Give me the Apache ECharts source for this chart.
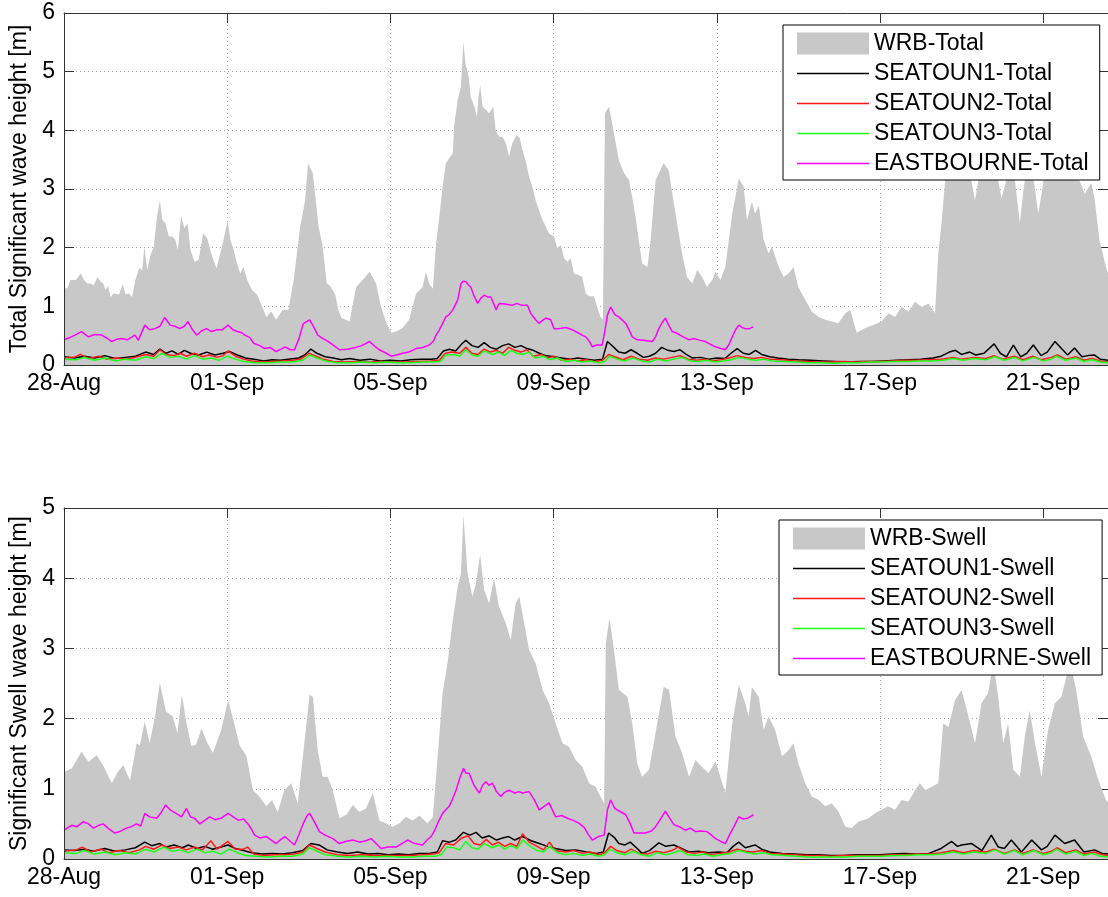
<!DOCTYPE html>
<html>
<head>
<meta charset="utf-8">
<script src="https://cdn.jsdelivr.net/npm/echarts@6/dist/echarts.min.js"></script>
<style>
html,body{margin:0;padding:0;background:#fff;}
#chart{width:1108px;height:897px;}
</style>
</head>
<body>
<div id="chart"></div>
<script>
// Time is given in days since 28-Aug 00:00; values are wave heights in metres.
const tickLabels = ['28-Aug', '01-Sep', '05-Sep', '09-Sep', '13-Sep', '17-Sep', '21-Sep'];

const totalNames = ['WRB-Total', 'SEATOUN1-Total', 'SEATOUN2-Total', 'SEATOUN3-Total', 'EASTBOURNE-Total'];
const swellNames = ['WRB-Swell', 'SEATOUN1-Swell', 'SEATOUN2-Swell', 'SEATOUN3-Swell', 'EASTBOURNE-Swell'];

const wrbTotal = [[0,1.31],[0.08,1.31],[0.16,1.45],[0.29,1.45],[0.41,1.56],[0.49,1.45],[0.57,1.39],[0.65,1.39],[0.73,1.36],[0.82,1.5],[0.9,1.42],[0.96,1.39],[1.02,1.28],[1.08,1.35],[1.14,1.16],[1.22,1.22],[1.35,1.2],[1.44,1.38],[1.51,1.2],[1.59,1.22],[1.67,1.16],[1.75,1.45],[1.84,1.65],[1.92,1.62],[1.97,2.02],[2.04,1.62],[2.12,1.87],[2.2,2.02],[2.28,2.53],[2.35,2.8],[2.41,2.47],[2.49,2.41],[2.57,2.19],[2.65,2.19],[2.73,2.13],[2.79,1.96],[2.87,2.54],[2.95,2.33],[3.03,2.41],[3.1,1.96],[3.2,1.76],[3.3,1.79],[3.41,2.24],[3.51,2.16],[3.63,1.85],[3.74,1.65],[3.83,1.9],[3.92,2.16],[4.01,2.46],[4.08,2.13],[4.16,1.96],[4.24,1.73],[4.32,1.56],[4.4,1.67],[4.49,1.45],[4.61,1.28],[4.73,1.2],[4.89,0.94],[4.96,0.82],[5.08,0.91],[5.2,0.77],[5.36,0.94],[5.5,0.94],[5.63,1.45],[5.79,2.36],[5.91,2.81],[5.98,3.44],[6.1,3.27],[6.24,2.36],[6.34,2.02],[6.44,1.39],[6.52,1.35],[6.65,1.2],[6.72,0.95],[6.8,0.8],[7.0,0.74],[7.16,1.33],[7.32,1.45],[7.49,1.59],[7.65,1.39],[7.77,0.99],[7.89,0.74],[8.02,0.55],[8.14,0.57],[8.3,0.63],[8.46,0.77],[8.63,1.22],[8.79,1.33],[8.87,1.59],[8.95,1.39],[9.04,1.3],[9.12,2.07],[9.2,2.53],[9.28,3.04],[9.36,3.44],[9.44,3.52],[9.53,3.61],[9.56,4.06],[9.65,4.52],[9.73,4.74],[9.79,5.51],[9.84,5.14],[9.92,4.91],[9.97,4.57],[10.06,4.4],[10.12,4.23],[10.16,4.57],[10.2,4.77],[10.26,4.4],[10.34,4.35],[10.42,4.29],[10.52,4.4],[10.58,4.0],[10.67,3.89],[10.75,3.89],[10.83,3.78],[10.91,3.55],[10.99,3.78],[11.09,3.92],[11.17,3.87],[11.24,3.66],[11.32,3.47],[11.4,3.21],[11.48,3.04],[11.56,2.81],[11.64,2.64],[11.73,2.47],[11.81,2.36],[11.89,2.24],[12.01,2.19],[12.09,2.0],[12.18,2.04],[12.26,1.82],[12.34,1.76],[12.42,1.82],[12.5,1.56],[12.62,1.53],[12.7,1.5],[12.79,1.22],[12.87,1.17],[12.99,1.17],[13.07,0.99],[13.15,0.82],[13.21,0.77],[13.26,4.29],[13.36,4.4],[13.48,3.95],[13.6,3.49],[13.73,3.27],[13.85,3.15],[13.97,2.7],[14.09,2.13],[14.17,1.73],[14.3,1.67],[14.38,2.13],[14.5,3.15],[14.7,3.44],[14.82,3.32],[14.99,2.58],[15.15,1.9],[15.27,1.5],[15.4,1.39],[15.52,1.62],[15.64,1.5],[15.76,1.33],[15.89,1.45],[15.97,1.59],[16.09,1.45],[16.21,1.67],[16.38,2.58],[16.54,3.18],[16.66,3.04],[16.74,2.47],[16.86,2.78],[16.94,2.58],[17.03,2.72],[17.15,2.13],[17.27,1.9],[17.35,2.02],[17.52,1.67],[17.64,1.5],[17.76,1.56],[17.88,1.67],[18.0,1.33],[18.17,1.11],[18.33,0.91],[18.5,0.82],[18.66,0.77],[18.82,0.74],[18.98,0.71],[19.07,0.8],[19.15,0.88],[19.27,0.94],[19.43,0.55],[19.64,0.63],[19.84,0.68],[20.04,0.74],[20.21,0.88],[20.37,0.82],[20.53,0.99],[20.7,0.91],[20.86,1.08],[21.02,0.99],[21.19,1.05],[21.35,0.88],[21.43,1.9],[21.51,2.42],[21.6,3.15],[21.76,3.5],[22.0,3.5],[22.2,3.3],[22.33,2.81],[22.45,3.3],[22.57,3.5],[22.78,3.6],[22.98,2.84],[23.19,3.4],[23.3,3.2],[23.43,2.42],[23.52,3.0],[23.63,3.5],[23.78,3.1],[23.88,2.58],[24.05,3.3],[24.29,3.6],[24.45,3.4],[24.61,3.5],[24.8,3.3],[25.02,2.92],[25.18,3.1],[25.26,2.84],[25.38,2.13],[25.54,1.67],[25.6,1.55]];

const seatoun1Total = [[0,0.14],[0.25,0.12],[0.5,0.15],[0.75,0.12],[1.0,0.16],[1.25,0.11],[1.5,0.13],[1.75,0.15],[2.0,0.22],[2.2,0.18],[2.35,0.27],[2.5,0.2],[2.65,0.24],[2.8,0.18],[2.95,0.25],[3.1,0.2],[3.3,0.17],[3.5,0.22],[3.7,0.17],[3.9,0.2],[4.05,0.23],[4.25,0.17],[4.45,0.12],[4.65,0.1],[4.9,0.07],[5.1,0.09],[5.3,0.08],[5.5,0.1],[5.75,0.12],[5.9,0.17],[6.05,0.27],[6.2,0.2],[6.4,0.14],[6.6,0.12],[6.8,0.09],[7.0,0.11],[7.25,0.08],[7.5,0.1],[7.75,0.07],[8.0,0.08],[8.25,0.07],[8.5,0.09],[8.75,0.1],[9.0,0.1],[9.15,0.11],[9.3,0.24],[9.45,0.27],[9.6,0.24],[9.75,0.36],[9.85,0.42],[10.0,0.33],[10.15,0.3],[10.3,0.38],[10.45,0.3],[10.6,0.27],[10.75,0.33],[10.9,0.36],[11.05,0.3],[11.2,0.33],[11.35,0.28],[11.5,0.25],[11.65,0.2],[11.8,0.16],[12.0,0.14],[12.2,0.12],[12.4,0.1],[12.6,0.12],[12.8,0.1],[13.0,0.08],[13.2,0.1],[13.32,0.4],[13.45,0.32],[13.6,0.22],[13.75,0.2],[13.9,0.26],[14.05,0.2],[14.2,0.13],[14.35,0.15],[14.5,0.2],[14.65,0.3],[14.8,0.25],[14.95,0.23],[15.1,0.26],[15.25,0.18],[15.4,0.12],[15.6,0.13],[15.8,0.1],[16.0,0.12],[16.2,0.11],[16.35,0.2],[16.5,0.28],[16.65,0.2],[16.8,0.18],[16.95,0.25],[17.1,0.18],[17.3,0.14],[17.5,0.12],[17.75,0.1],[18.0,0.09],[18.3,0.08],[18.6,0.07],[18.9,0.06],[19.2,0.05],[19.5,0.06],[19.8,0.06],[20.1,0.07],[20.4,0.08],[20.7,0.09],[21.0,0.1],[21.3,0.12],[21.5,0.15],[21.7,0.22],[21.85,0.25],[22.0,0.18],[22.2,0.22],[22.35,0.17],[22.55,0.2],[22.8,0.36],[22.95,0.2],[23.1,0.14],[23.27,0.34],[23.45,0.14],[23.6,0.2],[23.76,0.34],[23.95,0.16],[24.1,0.22],[24.29,0.4],[24.45,0.28],[24.6,0.17],[24.77,0.29],[24.95,0.14],[25.1,0.16],[25.26,0.17],[25.4,0.1],[25.6,0.08]];

const seatoun2Total = [[0,0.12],[0.25,0.13],[0.4,0.18],[0.6,0.11],[0.85,0.15],[1.05,0.1],[1.3,0.12],[1.55,0.1],[1.8,0.14],[2.0,0.18],[2.2,0.15],[2.35,0.26],[2.5,0.18],[2.7,0.16],[2.85,0.2],[3.0,0.15],[3.2,0.2],[3.4,0.14],[3.55,0.17],[3.75,0.13],[3.9,0.16],[4.02,0.24],[4.2,0.15],[4.4,0.1],[4.6,0.07],[4.85,0.05],[5.1,0.06],[5.35,0.07],[5.6,0.08],[5.8,0.1],[6.0,0.2],[6.15,0.16],[6.35,0.1],[6.6,0.06],[6.9,0.05],[7.2,0.06],[7.5,0.05],[7.8,0.06],[8.1,0.05],[8.4,0.05],[8.7,0.06],[9.0,0.07],[9.2,0.08],[9.35,0.2],[9.5,0.22],[9.7,0.2],[9.85,0.3],[10.0,0.2],[10.15,0.18],[10.3,0.27],[10.45,0.22],[10.6,0.25],[10.75,0.2],[10.9,0.3],[11.05,0.25],[11.2,0.22],[11.35,0.26],[11.5,0.15],[11.7,0.18],[11.85,0.12],[12.0,0.15],[12.2,0.08],[12.4,0.1],[12.6,0.07],[12.8,0.09],[13.0,0.06],[13.2,0.08],[13.35,0.18],[13.5,0.14],[13.7,0.09],[13.9,0.15],[14.1,0.1],[14.3,0.08],[14.5,0.12],[14.7,0.1],[14.9,0.13],[15.1,0.16],[15.3,0.1],[15.5,0.08],[15.7,0.1],[15.9,0.07],[16.1,0.09],[16.3,0.12],[16.5,0.16],[16.7,0.13],[16.9,0.11],[17.1,0.13],[17.3,0.1],[17.6,0.09],[17.9,0.07],[18.2,0.06],[18.5,0.05],[18.8,0.05],[19.1,0.06],[19.4,0.05],[19.7,0.06],[20.0,0.06],[20.3,0.07],[20.6,0.08],[20.9,0.08],[21.2,0.09],[21.5,0.1],[21.8,0.13],[22.0,0.1],[22.3,0.13],[22.6,0.11],[22.8,0.16],[23.0,0.1],[23.3,0.15],[23.5,0.09],[23.75,0.15],[23.95,0.09],[24.2,0.13],[24.35,0.17],[24.55,0.1],[24.8,0.14],[25.0,0.08],[25.2,0.11],[25.4,0.07],[25.6,0.05]];

const seatoun3Total = [[0,0.1],[0.3,0.09],[0.5,0.13],[0.75,0.08],[1.0,0.12],[1.25,0.07],[1.5,0.1],[1.75,0.08],[2.0,0.14],[2.2,0.11],[2.4,0.2],[2.6,0.13],[2.8,0.15],[3.0,0.1],[3.2,0.16],[3.4,0.1],[3.6,0.12],[3.8,0.08],[4.0,0.15],[4.2,0.1],[4.4,0.06],[4.7,0.04],[5.0,0.04],[5.3,0.05],[5.6,0.05],[5.85,0.08],[6.02,0.17],[6.2,0.12],[6.4,0.07],[6.7,0.04],[7.0,0.04],[7.3,0.05],[7.6,0.04],[7.9,0.05],[8.2,0.04],[8.5,0.04],[8.8,0.05],[9.1,0.05],[9.25,0.07],[9.35,0.17],[9.55,0.18],[9.7,0.15],[9.85,0.26],[10.0,0.17],[10.15,0.15],[10.3,0.24],[10.5,0.18],[10.65,0.22],[10.8,0.16],[10.95,0.25],[11.1,0.2],[11.25,0.18],[11.4,0.22],[11.55,0.12],[11.75,0.15],[11.9,0.09],[12.1,0.12],[12.3,0.06],[12.5,0.08],[12.7,0.05],[12.9,0.07],[13.1,0.04],[13.25,0.06],[13.38,0.15],[13.55,0.1],[13.75,0.07],[13.95,0.12],[14.15,0.07],[14.35,0.05],[14.55,0.1],[14.75,0.07],[14.95,0.1],[15.15,0.13],[15.35,0.07],[15.55,0.06],[15.75,0.08],[15.95,0.05],[16.15,0.07],[16.35,0.09],[16.55,0.13],[16.75,0.1],[16.95,0.08],[17.15,0.1],[17.35,0.07],[17.65,0.06],[17.95,0.05],[18.25,0.04],[18.55,0.04],[18.85,0.03],[19.15,0.04],[19.45,0.04],[19.75,0.05],[20.05,0.05],[20.35,0.06],[20.65,0.06],[20.95,0.07],[21.25,0.07],[21.55,0.08],[21.8,0.11],[22.05,0.08],[22.3,0.11],[22.6,0.09],[22.82,0.14],[23.05,0.08],[23.3,0.13],[23.5,0.07],[23.78,0.13],[24.0,0.07],[24.2,0.1],[24.33,0.15],[24.55,0.08],[24.8,0.12],[25.0,0.06],[25.2,0.09],[25.4,0.05],[25.6,0.04]];

const eastbourneTotal = [[0,0.43],[0.15,0.47],[0.27,0.51],[0.43,0.57],[0.6,0.48],[0.75,0.52],[0.92,0.51],[1.05,0.46],[1.17,0.4],[1.3,0.44],[1.41,0.45],[1.55,0.43],[1.74,0.51],[1.82,0.42],[1.98,0.68],[2.1,0.6],[2.23,0.62],[2.35,0.66],[2.47,0.81],[2.6,0.68],[2.72,0.66],[2.84,0.62],[2.95,0.66],[3.04,0.74],[3.15,0.6],[3.25,0.51],[3.37,0.58],[3.49,0.62],[3.62,0.57],[3.75,0.6],[3.88,0.6],[4.02,0.68],[4.14,0.6],[4.25,0.57],[4.36,0.55],[4.43,0.51],[4.55,0.47],[4.65,0.37],[4.8,0.33],[4.92,0.28],[5.05,0.3],[5.2,0.23],[5.32,0.27],[5.42,0.31],[5.55,0.26],[5.65,0.26],[5.76,0.45],[5.86,0.7],[6.02,0.77],[6.12,0.65],[6.22,0.51],[6.35,0.45],[6.48,0.4],[6.6,0.34],[6.75,0.26],[6.95,0.27],[7.15,0.3],[7.3,0.33],[7.49,0.4],[7.6,0.33],[7.73,0.26],[7.9,0.2],[8.02,0.15],[8.15,0.17],[8.3,0.2],[8.45,0.22],[8.63,0.28],[8.8,0.3],[8.95,0.34],[9.05,0.4],[9.12,0.51],[9.2,0.6],[9.28,0.71],[9.36,0.82],[9.44,0.86],[9.53,0.94],[9.65,1.11],[9.73,1.39],[9.79,1.43],[9.85,1.42],[9.92,1.36],[9.97,1.33],[10.06,1.16],[10.14,1.05],[10.22,1.14],[10.3,1.19],[10.38,1.16],[10.46,1.16],[10.53,1.05],[10.59,0.94],[10.67,1.05],[10.8,1.04],[10.99,1.02],[11.1,1.05],[11.2,1.02],[11.36,1.02],[11.44,0.88],[11.56,0.77],[11.64,0.71],[11.73,0.76],[11.81,0.8],[11.93,0.77],[12.01,0.62],[12.13,0.62],[12.3,0.64],[12.46,0.6],[12.6,0.55],[12.7,0.51],[12.79,0.48],[12.88,0.4],[12.95,0.31],[13.05,0.34],[13.19,0.34],[13.25,0.55],[13.32,0.85],[13.4,0.99],[13.5,0.86],[13.6,0.82],[13.77,0.71],[13.85,0.6],[13.93,0.48],[14.05,0.43],[14.2,0.42],[14.42,0.4],[14.5,0.48],[14.58,0.62],[14.66,0.72],[14.74,0.8],[14.82,0.68],[14.91,0.57],[15.0,0.55],[15.1,0.51],[15.2,0.47],[15.32,0.43],[15.45,0.45],[15.6,0.42],[15.72,0.4],[15.85,0.35],[15.97,0.31],[16.1,0.28],[16.21,0.26],[16.3,0.35],[16.38,0.48],[16.46,0.6],[16.54,0.68],[16.62,0.64],[16.7,0.62],[16.8,0.62],[16.9,0.65]];

const wrbSwell = [[0,1.24],[0.19,1.29],[0.3,1.4],[0.43,1.53],[0.6,1.38],[0.8,1.48],[0.98,1.31],[1.17,1.08],[1.3,1.22],[1.45,1.34],[1.62,1.12],[1.78,1.65],[1.86,1.62],[1.98,1.96],[2.1,1.65],[2.23,2.03],[2.35,2.51],[2.5,2.1],[2.67,2.03],[2.78,1.79],[2.89,2.34],[3.0,1.94],[3.12,1.61],[3.24,1.63],[3.37,1.86],[3.5,1.67],[3.65,1.51],[3.85,1.83],[4.02,2.26],[4.14,2.0],[4.31,1.61],[4.47,1.47],[4.63,0.98],[4.79,0.89],[4.96,0.75],[5.1,0.84],[5.24,0.67],[5.4,0.98],[5.57,1.08],[5.73,0.79],[5.9,1.7],[6.02,2.34],[6.1,2.31],[6.22,1.55],[6.34,1.17],[6.46,1.17],[6.59,0.98],[6.75,0.58],[6.92,0.63],[7.08,0.77],[7.24,0.67],[7.4,0.72],[7.57,0.94],[7.73,0.55],[7.89,0.51],[8.06,0.46],[8.22,0.51],[8.38,0.6],[8.55,0.55],[8.71,0.62],[8.91,0.51],[9.04,0.6],[9.16,1.46],[9.28,2.36],[9.4,2.79],[9.52,3.36],[9.65,3.88],[9.73,4.07],[9.79,4.9],[9.89,4.07],[10.01,3.74],[10.1,3.93],[10.2,4.33],[10.3,3.83],[10.42,3.64],[10.54,4.0],[10.66,3.6],[10.83,3.36],[10.95,3.12],[11.07,3.64],[11.16,3.74],[11.28,3.36],[11.4,2.98],[11.56,2.79],[11.73,2.41],[11.89,2.22],[12.05,1.93],[12.22,1.65],[12.38,1.6],[12.54,1.41],[12.71,1.31],[12.87,1.08],[13.03,1.03],[13.15,0.89],[13.24,0.79],[13.28,3.07],[13.37,3.43],[13.48,2.98],[13.6,2.41],[13.81,2.31],[13.93,1.93],[14.05,1.36],[14.17,1.17],[14.34,1.27],[14.54,1.93],[14.7,2.45],[14.83,2.41],[14.99,1.74],[15.15,1.51],[15.32,1.17],[15.48,1.41],[15.64,1.31],[15.8,1.22],[15.97,1.39],[16.21,0.94],[16.38,1.93],[16.54,2.48],[16.7,2.22],[16.78,2.03],[16.86,2.45],[17.03,2.31],[17.15,1.84],[17.27,2.03],[17.43,1.84],[17.6,1.46],[17.76,1.55],[17.88,1.65],[18.0,1.36],[18.17,1.08],[18.33,0.89],[18.5,0.84],[18.66,0.75],[18.82,0.79],[18.98,0.68],[19.15,0.46],[19.31,0.44],[19.47,0.53],[19.72,0.58],[19.88,0.65],[20.04,0.7],[20.2,0.75],[20.37,0.7],[20.53,0.84],[20.7,0.82],[20.86,0.98],[20.98,1.08],[21.11,0.98],[21.27,1.03],[21.43,1.08],[21.55,1.93],[21.68,1.88],[21.84,2.26],[22.0,2.41],[22.17,2.03],[22.33,1.65],[22.49,2.22],[22.65,2.36],[22.78,2.79],[22.9,2.31],[23.02,1.65],[23.14,1.93],[23.27,1.27],[23.43,1.17],[23.55,1.74],[23.67,2.12],[23.8,1.65],[23.96,1.17],[24.12,1.84],[24.29,2.22],[24.45,2.31],[24.57,2.6],[24.65,2.83],[24.81,2.41],[24.98,1.74],[25.18,1.46],[25.35,1.13],[25.54,0.84],[25.6,0.8]];

const seatoun1Swell = [[0,0.13],[0.25,0.12],[0.5,0.14],[0.72,0.11],[1.0,0.15],[1.25,0.11],[1.5,0.13],[1.75,0.16],[1.98,0.24],[2.15,0.19],[2.35,0.22],[2.5,0.17],[2.7,0.2],[2.9,0.16],[3.05,0.2],[3.25,0.15],[3.45,0.18],[3.65,0.14],[3.85,0.17],[4.02,0.2],[4.2,0.15],[4.4,0.12],[4.6,0.09],[4.85,0.07],[5.1,0.08],[5.35,0.07],[5.6,0.09],[5.85,0.12],[6.05,0.22],[6.25,0.2],[6.45,0.13],[6.7,0.1],[6.95,0.08],[7.2,0.1],[7.45,0.07],[7.7,0.08],[7.95,0.06],[8.2,0.07],[8.45,0.06],[8.7,0.08],[8.95,0.08],[9.15,0.1],[9.28,0.26],[9.45,0.24],[9.6,0.27],[9.79,0.38],[9.95,0.34],[10.1,0.38],[10.25,0.3],[10.42,0.33],[10.6,0.27],[10.75,0.3],[10.9,0.32],[11.05,0.27],[11.24,0.32],[11.45,0.26],[11.65,0.22],[11.85,0.18],[12.05,0.15],[12.3,0.12],[12.55,0.13],[12.8,0.1],[13.05,0.08],[13.22,0.1],[13.35,0.37],[13.5,0.3],[13.6,0.22],[13.75,0.2],[13.88,0.24],[14.05,0.15],[14.17,0.08],[14.35,0.12],[14.58,0.23],[14.75,0.18],[14.95,0.2],[15.1,0.16],[15.32,0.1],[15.55,0.11],[15.8,0.09],[16.05,0.1],[16.25,0.09],[16.4,0.18],[16.54,0.24],[16.7,0.16],[16.94,0.2],[17.1,0.14],[17.3,0.1],[17.6,0.08],[17.9,0.07],[18.2,0.06],[18.5,0.06],[18.8,0.05],[19.1,0.05],[19.4,0.06],[19.7,0.06],[20.0,0.06],[20.3,0.07],[20.6,0.08],[20.9,0.07],[21.2,0.08],[21.5,0.15],[21.76,0.25],[21.9,0.18],[22.0,0.2],[22.25,0.22],[22.5,0.12],[22.73,0.34],[22.9,0.17],[23.05,0.15],[23.22,0.27],[23.47,0.1],[23.72,0.27],[23.96,0.13],[24.1,0.18],[24.29,0.34],[24.53,0.22],[24.77,0.27],[25.0,0.1],[25.26,0.13],[25.45,0.08],[25.6,0.07]];

const seatoun2Swell = [[0,0.11],[0.3,0.13],[0.45,0.17],[0.65,0.1],[0.9,0.14],[1.1,0.09],[1.35,0.12],[1.6,0.09],[1.85,0.13],[2.0,0.18],[2.2,0.14],[2.4,0.2],[2.6,0.15],[2.8,0.17],[3.0,0.13],[3.2,0.17],[3.4,0.13],[3.6,0.26],[3.75,0.14],[4.02,0.25],[4.2,0.14],[4.4,0.14],[4.5,0.17],[4.65,0.07],[4.9,0.05],[5.15,0.06],[5.4,0.06],[5.65,0.07],[5.85,0.1],[6.02,0.2],[6.2,0.15],[6.4,0.1],[6.7,0.06],[7.0,0.05],[7.3,0.06],[7.6,0.05],[7.9,0.05],[8.2,0.05],[8.5,0.05],[8.8,0.06],[9.05,0.07],[9.2,0.09],[9.35,0.22],[9.55,0.2],[9.75,0.3],[9.9,0.33],[10.05,0.22],[10.2,0.2],[10.35,0.28],[10.5,0.2],[10.65,0.24],[10.8,0.18],[10.95,0.22],[11.1,0.18],[11.24,0.36],[11.4,0.24],[11.6,0.18],[11.75,0.13],[11.9,0.24],[12.05,0.12],[12.3,0.1],[12.5,0.12],[12.7,0.08],[12.9,0.1],[13.1,0.06],[13.25,0.09],[13.4,0.18],[13.55,0.12],[13.75,0.09],[13.9,0.14],[14.1,0.08],[14.3,0.07],[14.5,0.11],[14.7,0.09],[14.9,0.12],[15.05,0.17],[15.25,0.1],[15.45,0.08],[15.65,0.1],[15.85,0.06],[16.05,0.08],[16.3,0.1],[16.5,0.14],[16.7,0.11],[16.9,0.1],[17.1,0.12],[17.3,0.08],[17.6,0.07],[17.9,0.06],[18.2,0.05],[18.5,0.05],[18.8,0.04],[19.1,0.05],[19.4,0.05],[19.7,0.05],[20.0,0.05],[20.3,0.06],[20.6,0.06],[20.9,0.07],[21.2,0.07],[21.5,0.09],[21.8,0.12],[22.05,0.09],[22.3,0.12],[22.6,0.1],[22.8,0.14],[23.05,0.08],[23.3,0.13],[23.5,0.08],[23.75,0.13],[24.0,0.08],[24.2,0.11],[24.35,0.16],[24.55,0.09],[24.8,0.13],[25.0,0.07],[25.25,0.1],[25.45,0.06],[25.6,0.05]];

const seatoun3Swell = [[0,0.09],[0.3,0.08],[0.5,0.12],[0.75,0.07],[1.0,0.1],[1.25,0.06],[1.5,0.09],[1.75,0.07],[2.0,0.14],[2.2,0.1],[2.45,0.17],[2.65,0.11],[2.85,0.13],[3.05,0.09],[3.25,0.14],[3.45,0.09],[3.65,0.11],[3.85,0.07],[4.05,0.14],[4.25,0.09],[4.45,0.05],[4.7,0.04],[5.0,0.03],[5.3,0.04],[5.6,0.04],[5.85,0.07],[6.02,0.16],[6.2,0.11],[6.4,0.06],[6.7,0.04],[7.0,0.03],[7.3,0.04],[7.6,0.03],[7.9,0.04],[8.2,0.03],[8.5,0.03],[8.8,0.04],[9.1,0.04],[9.25,0.06],[9.38,0.17],[9.55,0.16],[9.7,0.13],[9.85,0.25],[10.0,0.16],[10.15,0.14],[10.3,0.22],[10.5,0.16],[10.65,0.2],[10.8,0.14],[10.95,0.19],[11.1,0.15],[11.25,0.27],[11.4,0.19],[11.6,0.12],[11.75,0.1],[11.9,0.18],[12.1,0.09],[12.3,0.06],[12.5,0.08],[12.7,0.05],[12.9,0.07],[13.1,0.04],[13.25,0.06],[13.38,0.14],[13.55,0.09],[13.75,0.06],[13.95,0.11],[14.15,0.06],[14.35,0.04],[14.55,0.09],[14.75,0.06],[14.95,0.09],[15.1,0.12],[15.3,0.06],[15.5,0.05],[15.7,0.07],[15.9,0.04],[16.1,0.06],[16.35,0.08],[16.55,0.12],[16.75,0.09],[16.95,0.07],[17.15,0.09],[17.35,0.06],[17.65,0.05],[17.95,0.04],[18.25,0.03],[18.55,0.03],[18.85,0.03],[19.15,0.03],[19.45,0.04],[19.75,0.04],[20.05,0.04],[20.35,0.05],[20.65,0.05],[20.95,0.06],[21.25,0.06],[21.55,0.07],[21.8,0.1],[22.05,0.07],[22.3,0.1],[22.6,0.08],[22.82,0.13],[23.05,0.07],[23.3,0.12],[23.5,0.06],[23.78,0.12],[24.0,0.06],[24.2,0.09],[24.33,0.14],[24.55,0.07],[24.8,0.11],[25.0,0.05],[25.2,0.08],[25.4,0.04],[25.6,0.03]];

const eastbourneSwell = [[0,0.41],[0.19,0.48],[0.32,0.46],[0.47,0.53],[0.6,0.5],[0.72,0.44],[0.85,0.48],[0.96,0.5],[1.1,0.43],[1.25,0.37],[1.4,0.4],[1.53,0.44],[1.65,0.46],[1.78,0.5],[1.88,0.47],[1.98,0.65],[2.1,0.6],[2.27,0.58],[2.38,0.66],[2.49,0.77],[2.6,0.7],[2.75,0.65],[2.88,0.6],[3.0,0.72],[3.1,0.6],[3.2,0.58],[3.33,0.5],[3.45,0.55],[3.57,0.6],[3.7,0.56],[3.85,0.58],[4.02,0.65],[4.15,0.6],[4.28,0.55],[4.4,0.57],[4.51,0.5],[4.6,0.42],[4.67,0.34],[4.8,0.3],[4.96,0.32],[5.08,0.27],[5.2,0.22],[5.32,0.28],[5.42,0.32],[5.55,0.25],[5.65,0.2],[5.76,0.35],[5.86,0.5],[5.96,0.62],[6.02,0.65],[6.12,0.55],[6.26,0.39],[6.4,0.34],[6.59,0.29],[6.75,0.22],[6.9,0.25],[7.08,0.27],[7.25,0.24],[7.4,0.26],[7.53,0.29],[7.65,0.22],[7.77,0.15],[7.95,0.17],[8.14,0.17],[8.28,0.22],[8.42,0.27],[8.6,0.22],[8.79,0.2],[8.9,0.27],[9.0,0.32],[9.08,0.4],[9.16,0.51],[9.28,0.65],[9.36,0.7],[9.44,0.75],[9.52,0.85],[9.61,0.98],[9.7,1.15],[9.79,1.29],[9.86,1.22],[9.93,1.22],[10.05,1.05],[10.18,0.94],[10.26,1.05],[10.34,1.1],[10.42,1.05],[10.5,1.08],[10.6,0.96],[10.71,0.89],[10.8,0.95],[10.91,0.98],[11.05,0.94],[11.15,0.96],[11.24,0.94],[11.4,0.96],[11.52,0.85],[11.65,0.7],[11.77,0.75],[11.89,0.8],[11.97,0.7],[12.05,0.6],[12.2,0.62],[12.34,0.58],[12.48,0.55],[12.62,0.51],[12.75,0.45],[12.85,0.35],[12.95,0.27],[13.1,0.32],[13.24,0.34],[13.32,0.7],[13.4,0.84],[13.5,0.72],[13.62,0.68],[13.77,0.63],[13.88,0.5],[13.97,0.37],[14.1,0.37],[14.25,0.37],[14.4,0.4],[14.5,0.46],[14.6,0.55],[14.74,0.68],[14.85,0.58],[14.95,0.49],[15.08,0.46],[15.23,0.41],[15.35,0.44],[15.48,0.39],[15.6,0.4],[15.76,0.39],[15.87,0.34],[15.97,0.29],[16.1,0.25],[16.21,0.22],[16.32,0.35],[16.42,0.46],[16.54,0.6],[16.65,0.57],[16.75,0.58],[16.9,0.63]];

const FONT = '"Liberation Sans", Arial, Helvetica, sans-serif';
const X_MAX = 25.59;           // right edge of the plot, in days
const AREA_COLOR = '#c8c8c8';
const AXIS_COLOR = '#333333';
const GRID_COLOR = '#a8a8a8';
const LINE_COLORS = ['#000000', '#ff1a1a', '#1aff1a', '#ff00ff'];

function dayLabel(v) {
  const i = Math.round(v / 4);
  return Math.abs(v - i * 4) < 1e-6 && tickLabels[i] ? tickLabels[i] : '';
}

// Each panel gets four x axes and four y axes:
//  0: labels, inward ticks and dotted grid (beneath the data)
//  1: ticks on the opposite side (beneath the data)
//  2,3: the box outline, drawn over the data
function panelXAxes(gi) {
  const base = { type: 'value', gridIndex: gi, min: 0, max: X_MAX, interval: 4 };
  const tick = { show: true, inside: true, length: 10, lineStyle: { color: AXIS_COLOR, width: 1 } };
  const none = { show: false };
  return [
    Object.assign({}, base, { position: 'bottom', z: 0,
      axisLine: { show: false, onZero: false }, axisTick: tick,
      axisLabel: { show: true, fontSize: 23, color: '#000', fontFamily: FONT, margin: 7, showMaxLabel: false, formatter: dayLabel },
      splitLine: { show: true, lineStyle: { color: GRID_COLOR, width: 1, type: [1, 3] } } }),
    Object.assign({}, base, { position: 'top', z: 0,
      axisLine: { show: false, onZero: false }, axisTick: tick, axisLabel: none, splitLine: none }),
    Object.assign({}, base, { position: 'bottom', z: 6,
      axisLine: { show: true, onZero: false, lineStyle: { color: AXIS_COLOR, width: 1 } }, axisTick: none, axisLabel: none, splitLine: none }),
    Object.assign({}, base, { position: 'top', z: 6,
      axisLine: { show: true, onZero: false, lineStyle: { color: AXIS_COLOR, width: 1 } }, axisTick: none, axisLabel: none, splitLine: none })
  ];
}

function panelYAxes(gi, max, title) {
  const base = { type: 'value', gridIndex: gi, min: 0, max: max, interval: 1 };
  const tick = { show: true, inside: true, length: 10, lineStyle: { color: AXIS_COLOR, width: 1 } };
  const none = { show: false };
  return [
    Object.assign({}, base, { position: 'left', z: 0,
      name: title, nameLocation: 'middle', nameGap: 29, nameRotate: 90,
      nameTextStyle: { fontSize: 23, color: '#000', fontFamily: FONT },
      axisLine: { show: false, onZero: false }, axisTick: tick,
      axisLabel: { show: true, fontSize: 23, color: '#000', fontFamily: FONT, margin: 9 },
      splitLine: { show: true, lineStyle: { color: GRID_COLOR, width: 1, type: [1, 3] } } }),
    Object.assign({}, base, { position: 'right', z: 0,
      axisLine: { show: false, onZero: false }, axisTick: tick, axisLabel: none, splitLine: none }),
    Object.assign({}, base, { position: 'left', z: 6,
      axisLine: { show: true, onZero: false, lineStyle: { color: AXIS_COLOR, width: 1 } }, axisTick: none, axisLabel: none, splitLine: none }),
    Object.assign({}, base, { position: 'right', z: 6,
      axisLine: { show: true, onZero: false, lineStyle: { color: AXIS_COLOR, width: 1 } }, axisTick: none, axisLabel: none, splitLine: none })
  ];
}

function panelSeries(gi, names, area, lines) {
  const out = [{
    name: names[0], type: 'line', xAxisIndex: gi * 4, yAxisIndex: gi * 4,
    data: area, symbol: 'none', showSymbol: false, silent: true, z: 2,
    lineStyle: { width: 0 }, itemStyle: { color: AREA_COLOR },
    areaStyle: { color: AREA_COLOR, opacity: 1 }
  }];
  lines.forEach(function (d, k) {
    out.push({
      name: names[k + 1], type: 'line', xAxisIndex: gi * 4, yAxisIndex: gi * 4,
      data: d, symbol: 'none', showSymbol: false, silent: true, z: 3,
      lineStyle: { width: 1.5, color: LINE_COLORS[k] }, itemStyle: { color: LINE_COLORS[k] }
    });
  });
  return out;
}

function panelLegend(names, left, top) {
  return {
    orient: 'vertical', left: left, top: top, padding: [7, 11, 5, 14],
    itemWidth: 72, itemHeight: 22, itemGap: 7, selectedMode: false,
    backgroundColor: '#fff', borderColor: '#000', borderWidth: 1, borderRadius: 0, z: 8,
    textStyle: { fontSize: 23, color: '#000', fontFamily: FONT, lineHeight: 22 },
    data: names.map(function (n, i) {
      if (i === 0) return { name: n, icon: 'rect', itemStyle: { color: AREA_COLOR, borderWidth: 0 } };
      return { name: n, icon: 'path://M0,0H72V1.3H0Z', itemStyle: { color: LINE_COLORS[i - 1], borderWidth: 0 } };
    })
  };
}

const chart = echarts.init(document.getElementById('chart'), null, { renderer: 'canvas' });
chart.setOption({
  animation: false,
  backgroundColor: '#fff',
  grid: [
    { left: 64, right: -2, top: 13, height: 352 },
    { left: 64, right: -2, top: 508, height: 351 }
  ],
  xAxis: panelXAxes(0).concat(panelXAxes(1)),
  yAxis: panelYAxes(0, 6, 'Total Significant wave height [m]')
    .concat(panelYAxes(1, 5, 'Significant Swell wave height [m]')),
  legend: [
    panelLegend(totalNames, 783, 25),
    panelLegend(swellNames, 779, 520)
  ],
  series: panelSeries(0, totalNames, wrbTotal, [seatoun1Total, seatoun2Total, seatoun3Total, eastbourneTotal])
    .concat(panelSeries(1, swellNames, wrbSwell, [seatoun1Swell, seatoun2Swell, seatoun3Swell, eastbourneSwell]))
});
</script>
</body>
</html>
